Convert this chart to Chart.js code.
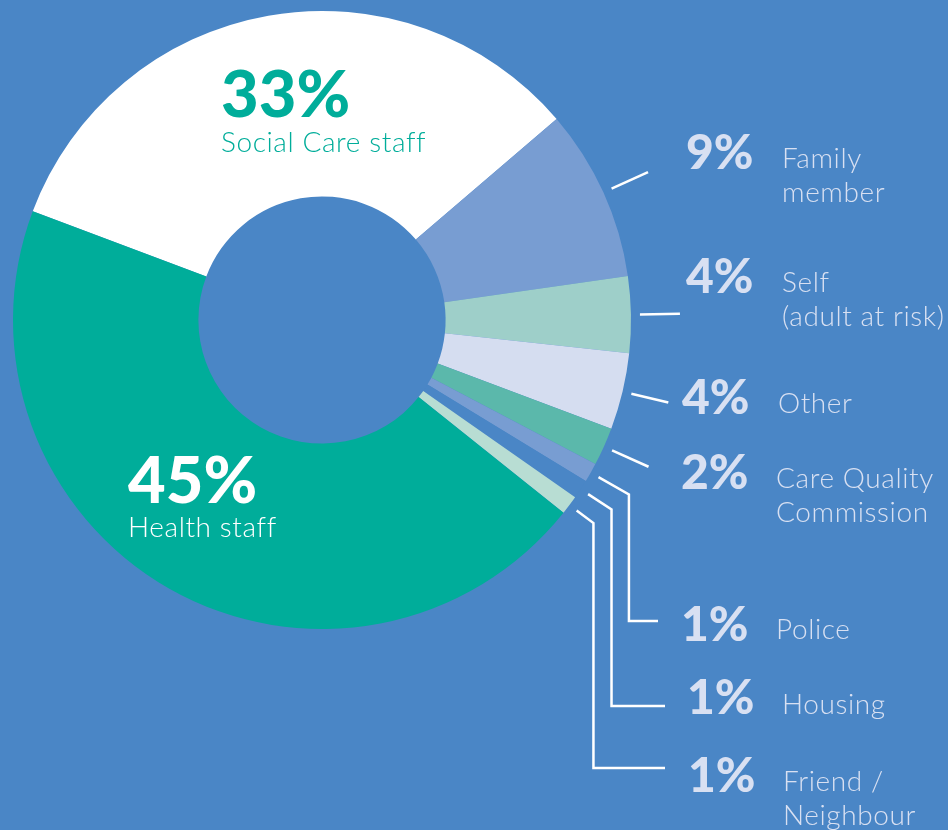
<!DOCTYPE html>
<html>
<head>
<meta charset="utf-8">
<script src="https://cdn.jsdelivr.net/npm/chart.js@4.4.1/dist/chart.umd.min.js"></script>
<style>
  html, body { margin: 0; padding: 0; background: #4a86c6; }
  #wrap { width: 948px; height: 830px; position: relative; }
</style>
</head>
<body>
<div id="wrap"><canvas id="chart"></canvas></div>
<script>
// referral sources, clockwise from the Social Care slice
const categories = [
  ['Social Care staff'],
  ['Family', 'member'],
  ['Self', '(adult at risk)'],
  ['Other'],
  ['Care Quality', 'Commission'],
  ['Police'],
  ['Housing'],
  ['Friend /', 'Neighbour'],
  ['Health staff']
];
const shares = [33, 9, 4, 4, 2, 1, 1, 1, 45];

const sliceColors = [
  '#ffffff',
  '#789dd2',
  '#9ecfc9',
  '#d5ddf0',
  '#5bb8ab',
  '#789dd2',
  '#4a86c6',
  '#b8ddd3',
  '#00ad9a'
];
const labelColor = '#d8e0f2';

// callout layout for the small slices (index -> where its label sits)
const callouts = {
  1: { r2: 358, pctX: 686, pctY: 169, textX: 782, textY: 168 },
  2: { r2: 358, pctX: 686, pctY: 293, textX: 782, textY: 292 },
  3: { r2: 356, pctX: 682, pctY: 414, textX: 778, textY: 413 },
  4: { r2: 358, pctX: 681, pctY: 489, textX: 776, textY: 488 },
  5: { r2: 353, elbowY: 621, endX: 658, pctX: 681, pctY: 641, textX: 776, textY: 639 },
  6: { r2: 346, elbowY: 706, endX: 665, pctX: 687, pctY: 714, textX: 782, textY: 714 },
  7: { r2: 339, elbowY: 768, endX: 665, pctX: 688, pctY: 792, textX: 783, textY: 791 }
};
// the two big slices carry their label inside
const insideLabels = {
  0: { x: 221, pctY: 117, textY: 152, color: '#00ad9a' },
  8: { x: 128, pctY: 503, textY: 537, color: '#ffffff' }
};

const labelPlugin = {
  id: 'calloutLabels',
  afterDatasetsDraw(chart) {
    const ctx = chart.ctx;
    const meta = chart.getDatasetMeta(0);
    ctx.save();
    ctx.textAlign = 'left';
    ctx.textBaseline = 'alphabetic';

    meta.data.forEach((arc, i) => {
      const p = arc.getProps(['x', 'y', 'startAngle', 'endAngle', 'outerRadius'], true);
      const mid = (p.startAngle + p.endAngle) / 2;
      const c = callouts[i];
      if (c) {
        const r1 = p.outerRadius + 9;
        ctx.strokeStyle = '#ffffff';
        ctx.lineWidth = 2.5;
        ctx.lineJoin = 'miter';
        ctx.beginPath();
        ctx.moveTo(p.x + Math.cos(mid) * r1, p.y + Math.sin(mid) * r1);
        const x2 = p.x + Math.cos(mid) * c.r2;
        const y2 = p.y + Math.sin(mid) * c.r2;
        ctx.lineTo(x2, y2);
        if (c.elbowY) {
          ctx.lineTo(x2, c.elbowY);
          ctx.lineTo(c.endX, c.elbowY);
        }
        ctx.stroke();

        ctx.fillStyle = labelColor;
        ctx.letterSpacing = '0px';
        ctx.font = '900 48px Lato';
        ctx.fillText(shares[i] + '%', c.pctX, c.pctY);
        ctx.font = '300 28px Lato';
        ctx.letterSpacing = '0.6px';
        categories[i].forEach((line, k) => {
          ctx.fillText(line, c.textX, c.textY + k * 34);
        });
      }
      const inl = insideLabels[i];
      if (inl) {
        ctx.fillStyle = inl.color;
        ctx.letterSpacing = '0px';
        ctx.font = '900 65px Lato';
        ctx.fillText(shares[i] + '%', inl.x, inl.pctY);
        ctx.font = '300 28px Lato';
        ctx.letterSpacing = '0.6px';
        ctx.fillText(categories[i].join(' '), inl.x, inl.textY);
      }
    });
    ctx.restore();
  }
};

const chart = new Chart(document.getElementById('chart'), {
  type: 'doughnut',
  data: {
    labels: categories.map((c) => c.join(' ')),
    datasets: [{
      data: shares,
      backgroundColor: sliceColors,
      borderWidth: 0,
      hoverOffset: 0
    }]
  },
  options: {
    responsive: true,
    maintainAspectRatio: false,
    animation: false,
    rotation: -69.4,
    cutout: '40%',
    layout: {
      padding: { left: 13, right: 317, top: 11, bottom: 201 }
    },
    plugins: {
      legend: { display: false },
      tooltip: { enabled: false }
    }
  },
  plugins: [labelPlugin]
});
</script>
</body>
</html>
